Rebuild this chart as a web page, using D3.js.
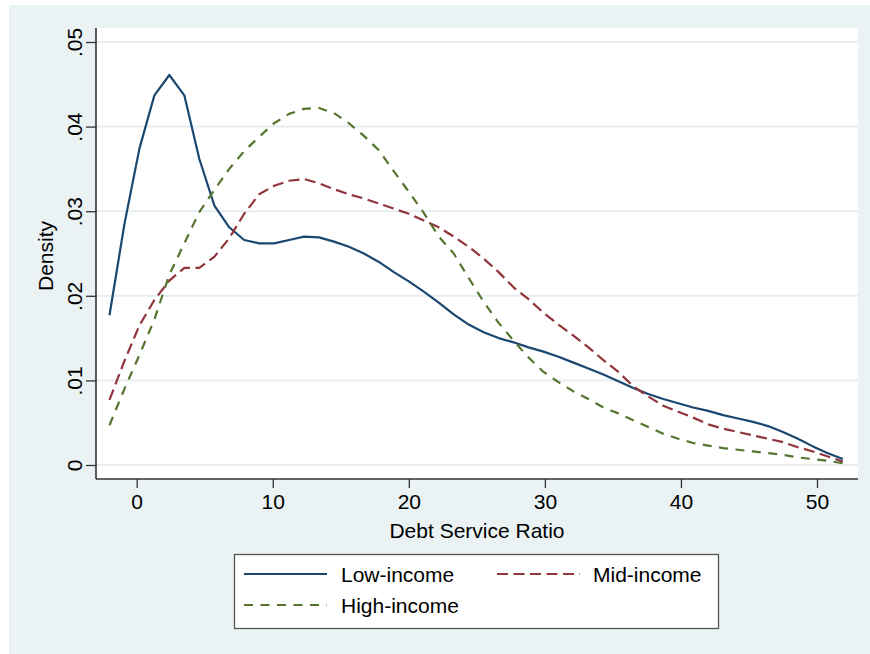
<!DOCTYPE html>
<html>
<head>
<meta charset="utf-8">
<script src="https://cdn.jsdelivr.net/npm/d3@7"></script>
<style>
  html, body { margin: 0; padding: 0; background: #ffffff; }
  svg { display: block; font-family: "Liberation Sans", Arial, Helvetica, sans-serif; }
</style>
</head>
<body>
<svg id="chart" width="870" height="654"></svg>
<script>
// Evaluation points (Debt Service Ratio)
const xPoints = [-2.0, -0.9, 0.2, 1.3, 2.4, 3.5, 4.6, 5.7, 6.8, 7.9,
  9.0, 10.1, 11.2, 12.3, 13.4, 14.5, 15.6, 16.7, 17.8, 18.9,
  20.0, 21.1, 22.2, 23.3, 24.4, 25.5, 26.6, 27.7, 28.8, 29.9,
  31.0, 32.1, 33.2, 34.3, 35.4, 36.5, 37.6, 38.7, 39.8, 40.9,
  42.0, 43.1, 44.2, 45.3, 46.4, 47.5, 48.6, 49.7, 50.8, 51.9];

const lowIncome = [0.0177, 0.0285, 0.0374, 0.0437, 0.0461, 0.0437, 0.0362, 0.0307, 0.0281, 0.0266,
  0.0262, 0.0262, 0.0266, 0.0270, 0.0269, 0.0264, 0.0258, 0.0250, 0.0240, 0.0228,
  0.0217, 0.0205, 0.0192, 0.0178, 0.0166, 0.0157, 0.0150, 0.0145, 0.0139, 0.0134,
  0.0128, 0.0121, 0.0114, 0.0107, 0.0099, 0.0091, 0.0084, 0.0078, 0.0073, 0.0068,
  0.0064, 0.0059, 0.0055, 0.0051, 0.0046, 0.0039, 0.0031, 0.0022, 0.0014, 0.0007];

const midIncome = [0.0077, 0.0123, 0.0165, 0.0195, 0.0218, 0.0233, 0.0233, 0.0246, 0.0268, 0.0297,
  0.0320, 0.0330, 0.0336, 0.0338, 0.0333, 0.0326, 0.0320, 0.0315, 0.0309, 0.0303,
  0.0297, 0.0289, 0.0281, 0.0270, 0.0258, 0.0244, 0.0228, 0.0210, 0.0196, 0.0180,
  0.0166, 0.0153, 0.0139, 0.0124, 0.0110, 0.0093, 0.0081, 0.0070, 0.0063, 0.0056,
  0.0048, 0.0043, 0.0039, 0.0035, 0.0031, 0.0027, 0.0021, 0.0016, 0.0010, 0.0004];

const highIncome = [0.0047, 0.0090, 0.0130, 0.0172, 0.0225, 0.0262, 0.0299, 0.0325, 0.0350, 0.0371,
  0.0388, 0.0404, 0.0415, 0.0421, 0.0422, 0.0416, 0.0404, 0.0389, 0.0372, 0.0347,
  0.0323, 0.0298, 0.0270, 0.0250, 0.0221, 0.0193, 0.0168, 0.0147, 0.0127, 0.0110,
  0.0098, 0.0087, 0.0078, 0.0068, 0.0061, 0.0053, 0.0045, 0.0037, 0.0031, 0.0026,
  0.0023, 0.0020, 0.0018, 0.0016, 0.0014, 0.0012, 0.0009, 0.0007, 0.0005, 0.0002];

const seriesNames = ["Low-income", "Mid-income", "High-income"];
const xTicks = [0, 10, 20, 30, 40, 50];
const yTicks = [0, 0.01, 0.02, 0.03, 0.04, 0.05];
const yTickLabels = ["0", ".01", ".02", ".03", ".04", ".05"];
const xTitle = "Debt Service Ratio";
const yTitle = "Density";

// ---- styles / layout ----
const bgColor = "#EAF2F3";
const gridColor = "#E6EEF1";
const colors = ["#1a476f", "#90353b", "#55752f"];
const dashes = [null, "11,5.5", "9,7.5"];
const plot = { left: 96, right: 858, top: 28, bottom: 479 };

const svg = d3.select("#chart");

// outer graph region
svg.append("rect").attr("x", 9).attr("y", 5).attr("width", 861).attr("height", 649)
  .attr("fill", bgColor);

// plot region
svg.append("rect").attr("x", plot.left).attr("y", plot.top)
  .attr("width", plot.right - plot.left).attr("height", plot.bottom - plot.top)
  .attr("fill", "#ffffff");

const x = d3.scaleLinear().domain([0, 50]).range([136.7, 817]);
const y = d3.scaleLinear().domain([0, 0.05]).range([465, 42]);

// gridlines
svg.append("g").selectAll("line").data(yTicks).join("line")
  .attr("x1", plot.left).attr("x2", plot.right)
  .attr("y1", d => y(d)).attr("y2", d => y(d))
  .attr("stroke", gridColor).attr("stroke-width", 2);

// x axis
const xAxis = d3.axisBottom(x).tickValues(xTicks).tickSize(9).tickPadding(6).tickFormat(d3.format("d"));
const gx = svg.append("g").attr("transform", `translate(0,${plot.bottom})`).call(xAxis);
gx.select(".domain").attr("d", `M${plot.left},0H${plot.right}`).attr("stroke", "#333").attr("stroke-width", 1.6);
gx.selectAll(".tick line").attr("stroke", "#333").attr("stroke-width", 1.3);
gx.selectAll(".tick text").attr("font-size", 21).attr("fill", "#000")
  .attr("font-family", "'Liberation Sans', Arial, sans-serif").attr("dy", "0.71em");

// y axis
const yAxis = d3.axisLeft(y).tickValues(yTicks).tickSize(10).tickPadding(0)
  .tickFormat((d, i) => yTickLabels[i]);
const gy = svg.append("g").attr("transform", `translate(${plot.left},0)`).call(yAxis);
gy.select(".domain").attr("d", `M0,${plot.top}V${plot.bottom}`).attr("stroke", "#333").attr("stroke-width", 1.6);
gy.selectAll(".tick line").attr("stroke", "#333").attr("stroke-width", 1.3);
gy.selectAll(".tick text")
  .attr("font-size", 21).attr("fill", "#000")
  .attr("font-family", "'Liberation Sans', Arial, sans-serif")
  .attr("text-anchor", "middle")
  .attr("x", null).attr("dy", null)
  .attr("transform", "translate(-14,0) rotate(-90)");

// axis titles
svg.append("text").attr("x", 477).attr("y", 538).attr("text-anchor", "middle")
  .attr("font-size", 21).attr("fill", "#000").text(xTitle);
svg.append("text").attr("transform", "translate(53,256) rotate(-90)").attr("text-anchor", "middle")
  .attr("font-size", 21).attr("fill", "#000").text(yTitle);

// lines
const allSeries = [lowIncome, midIncome, highIncome];
const line = d3.line().x((d, i) => x(xPoints[i])).y(d => y(d));
svg.append("g").selectAll("path").data(allSeries).join("path")
  .attr("d", d => line(d))
  .attr("fill", "none")
  .attr("stroke", (d, i) => colors[i])
  .attr("stroke-width", 2.2)
  .attr("stroke-linejoin", "round")
  .attr("stroke-dasharray", (d, i) => dashes[i]);

// legend
const lg = svg.append("g");
lg.append("rect").attr("x", 234.5).attr("y", 554.5).attr("width", 484).attr("height", 74)
  .attr("fill", "#ffffff").attr("stroke", "#555").attr("stroke-width", 1.3);
const legendItems = [
  { i: 0, lx: 244, ly: 574, tx: 341, ty: 582 },
  { i: 1, lx: 497, ly: 574, tx: 593, ty: 582 },
  { i: 2, lx: 244, ly: 605, tx: 341, ty: 613 }
];
legendItems.forEach(it => {
  lg.append("line").attr("x1", it.lx).attr("x2", it.lx + 83)
    .attr("y1", it.ly).attr("y2", it.ly)
    .attr("stroke", colors[it.i]).attr("stroke-width", 2.2)
    .attr("stroke-dasharray", dashes[it.i]);
  lg.append("text").attr("x", it.tx).attr("y", it.ty)
    .attr("font-size", 21).attr("fill", "#000").text(seriesNames[it.i]);
});
</script>
</body>
</html>
